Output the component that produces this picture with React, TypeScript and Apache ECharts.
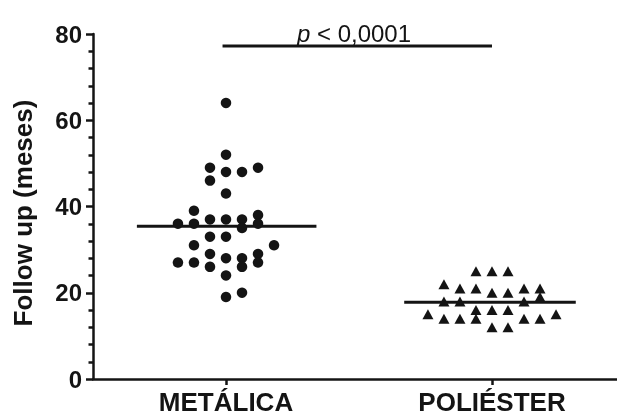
import React, { useEffect, useRef } from "react";
import * as echarts from "echarts";

// Groups (positions on the x value axis: 1 and 2)
const CATEGORIES = ["METÁLICA", "POLIÉSTER"];

// METÁLICA follow-up values (months) and their jitter column (-3..3)
const METALICA_VALUES = [64, 52, 49, 48, 48, 49, 46, 43, 39, 36, 36, 37, 37, 37, 38, 36, 35, 33, 33, 31, 31, 29, 29, 27, 27, 28, 28, 27, 26, 26, 24, 20, 19];
const METALICA_COLS = [0, 0, -1, 0, 1, 2, -1, 0, -2, -3, -2, -1, 0, 1, 2, 2, 1, -1, 0, -2, 3, -1, 2, -3, -2, 0, 1, 2, -1, 1, 0, 1, 0];

// POLIÉSTER follow-up values (months) and their jitter column (-4..4)
const POLIESTER_VALUES = [15, 22, 18, 14, 21, 18, 14, 25, 21, 16, 14, 25, 20, 16, 12, 25, 20, 16, 12, 21, 18, 14, 21, 19, 14, 15];
const POLIESTER_COLS = [-4, -3, -3, -3, -2, -2, -2, -1, -1, -1, -1, 0, 0, 0, 0, 1, 1, 1, 1, 2, 2, 2, 3, 3, 3, 4];

// Means
const MEANS = [35.4, 17.8];

// Y ticks
const Y_MIN = 0;
const Y_MAX = 80;
const Y_INTERVAL = 20;

// Significance bar
const SIG_LEVEL = 77.2;
const SIG_P = "p";
const SIG_REST = " < 0,0001";
const Y_TITLE = "Follow up (meses)";

const FONT = '"Liberation Sans", Arial, Helvetica, sans-serif';
const INK = "#141414";

export default function App() {
  const ref = useRef<HTMLDivElement>(null);

  useEffect(() => {
    if (!ref.current) return;
    const chart = echarts.init(ref.current, null, { renderer: "svg" });
    const COLW = 0.0602;
    const metalData = METALICA_VALUES.map((v, i) => [1 + METALICA_COLS[i] * COLW, v]);
    const polyData = POLIESTER_VALUES.map((v, i) => [2 + POLIESTER_COLS[i] * COLW, v]);
    const meanLine = (center: number, v: number, l: number, r: number) => ({
      type: "line",
      data: [
        [center - l, v],
        [center + r, v],
      ],
      symbol: "none",
      lineStyle: { color: INK, width: 3 },
      z: 5,
      silent: true,
    });

    chart.setOption({
      animation: false,
      grid: { left: 93, right: 0, top: 34, bottom: 38 },
      xAxis: {
        type: "value",
        min: 0.5,
        max: 2.47,
        axisLine: { show: true, lineStyle: { color: INK, width: 2.5 } },
        axisTick: { show: true, customValues: [1, 2], length: 6, lineStyle: { color: INK, width: 2.5 } },
        axisLabel: {
          customValues: [1, 2],
          formatter: (v: number) => CATEGORIES[Math.round(v) - 1] ?? "",
          fontFamily: FONT,
          fontWeight: "bold",
          fontSize: 26,
          color: INK,
          margin: 10,
        },
        splitLine: { show: false },
      },
      yAxis: {
        type: "value",
        min: Y_MIN,
        max: Y_MAX,
        interval: Y_INTERVAL,
        axisLine: { show: true, lineStyle: { color: INK, width: 2.5 } },
        axisTick: { show: true, length: 7, lineStyle: { color: INK, width: 2.5 } },
        minorTick: { show: true, splitNumber: 5, length: 4.5, lineStyle: { color: INK, width: 2.5 } },
        axisLabel: {
          fontFamily: FONT,
          fontWeight: "bold",
          fontSize: 24,
          color: INK,
          margin: 11,
        },
        splitLine: { show: false },
      },
      graphic: [
        {
          type: "text",
          x: 23,
          y: 213,
          rotation: Math.PI / 2,
          style: {
            text: Y_TITLE,
            fontFamily: FONT,
            fontWeight: "bold",
            fontSize: 26,
            fill: INK,
            align: "center",
            verticalAlign: "middle",
          },
        },
        {
          type: "text",
          x: 354,
          y: 33,
          style: {
            text: "{i|" + SIG_P + "}{n|" + SIG_REST.replace(" ", "\u00a0") + "}",
            align: "center",
            verticalAlign: "middle",
            rich: {
              i: { fontFamily: FONT, fontStyle: "italic", fontSize: 24, fill: INK },
              n: { fontFamily: FONT, fontSize: 24, fill: INK },
            },
          },
        },
      ],
      series: [
        {
          type: "scatter",
          name: CATEGORIES[0],
          data: metalData,
          symbol: "circle",
          symbolSize: 10.5,
          itemStyle: { color: INK, opacity: 1 },
          z: 3,
        },
        {
          type: "scatter",
          name: CATEGORIES[1],
          data: polyData,
          symbol: "triangle",
          symbolSize: [11, 10],
          itemStyle: { color: INK, opacity: 1 },
          z: 3,
        },
        meanLine(1, MEANS[0], 0.335, 0.34),
        meanLine(2, MEANS[1], 0.33, 0.315),
        {
          type: "line",
          data: [
            [0.987, SIG_LEVEL],
            [2.0, SIG_LEVEL],
          ],
          symbol: "none",
          lineStyle: { color: INK, width: 3 },
          silent: true,
        },
      ],
    });
    return () => chart.dispose();
  }, []);

  return <div ref={ref} style={{ position: "fixed", left: 0, top: 0, width: 617, height: 417 }} />;
}
